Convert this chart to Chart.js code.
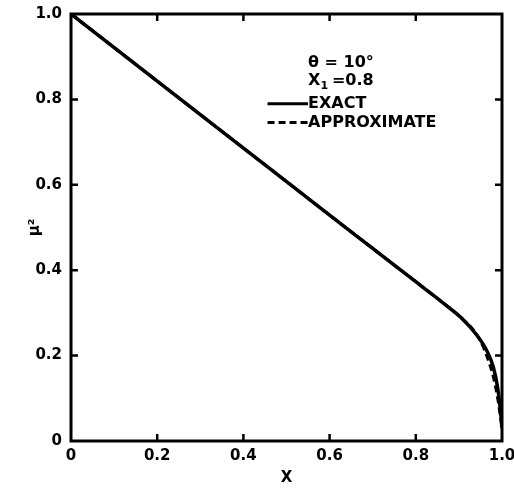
<!DOCTYPE html>
<html>
<head>
<meta charset="utf-8">
<script src="https://cdn.jsdelivr.net/npm/chart.js@4/dist/chart.umd.min.js"></script>
<style>
    html, body { margin: 0; padding: 0; background: #fff; }
    #wrap { width: 514px; height: 491px; position: relative; }
</style>
</head>
<body>
<div id="wrap"><canvas id="chart"></canvas></div>
<script>
// values
const exactX = [0, 0.2, 0.4, 0.6, 0.7, 0.8, 0.85, 0.88, 0.91, 0.94, 0.965, 0.98, 0.99, 0.996, 1.0];
const exactY = [1.0, 0.843, 0.686, 0.529, 0.451, 0.373, 0.334, 0.31, 0.284, 0.25, 0.211, 0.173, 0.124, 0.075, 0.03];
const approxX = [0, 0.2, 0.4, 0.6, 0.7, 0.8, 0.85, 0.88, 0.91, 0.935, 0.955, 0.968, 0.98, 0.99, 0.996, 1.0];
const approxY = [1.0, 0.843, 0.686, 0.529, 0.451, 0.373, 0.334, 0.31, 0.284, 0.258, 0.224, 0.19, 0.15, 0.1, 0.06, 0.03];
const xTicks = [0, 0.2, 0.4, 0.6, 0.8, 1.0];
const yTicks = [0, 0.2, 0.4, 0.6, 0.8, 1.0];
const xTickLabels = ["0", "0.2", "0.4", "0.6", "0.8", "1.0"];
const yTickLabels = ["0", "0.2", "0.4", "0.6", "0.8", "1.0"];

const FONT = "'DejaVu Sans', sans-serif";

const toPoints = (xs, ys) => xs.map((x, i) => ({ x: x, y: ys[i] }));

// frame, inward ticks and the in-plot key
const framePlugin = {
    id: "frame",
    afterDatasetsDraw(chart) {
        const ctx = chart.ctx;
        const a = chart.chartArea;
        const xs = chart.scales.x, ys = chart.scales.y;
        ctx.save();
        ctx.strokeStyle = "#000";
        ctx.lineWidth = 3;
        ctx.strokeRect(a.left, a.top, a.right - a.left, a.bottom - a.top);

        ctx.lineWidth = 2.5;
        const len = 7;
        ctx.beginPath();
        xTicks.slice(1, -1).forEach(v => {
            const px = xs.getPixelForValue(v);
            ctx.moveTo(px, a.bottom); ctx.lineTo(px, a.bottom - len);
            ctx.moveTo(px, a.top); ctx.lineTo(px, a.top + len);
        });
        yTicks.slice(1, -1).forEach(v => {
            const py = ys.getPixelForValue(v);
            ctx.moveTo(a.left, py); ctx.lineTo(a.left + len, py);
            ctx.moveTo(a.right, py); ctx.lineTo(a.right - len, py);
        });
        ctx.stroke();

        // key
        const kx = xs.getPixelForValue(0.55);
        const lx = xs.getPixelForValue(0.456);
        ctx.fillStyle = "#000";
        ctx.textBaseline = "middle";
        ctx.textAlign = "left";
        ctx.font = "bold 16px " + FONT;
        ctx.fillText("\u03B8 = 10\u00B0", kx, ys.getPixelForValue(0.886));
        const y2 = ys.getPixelForValue(0.843);
        ctx.fillText("X", kx, y2);
        const w = ctx.measureText("X").width;
        ctx.font = "bold 11px " + FONT;
        ctx.fillText("1", kx + w, y2 + 5);
        ctx.font = "bold 16px " + FONT;
        ctx.fillText(" =0.8", kx + w + 6, y2);

        const y3 = ys.getPixelForValue(0.79);
        const y4 = ys.getPixelForValue(0.746);
        ctx.lineWidth = 3;
        ctx.beginPath();
        ctx.moveTo(lx, y3); ctx.lineTo(kx, y3);
        ctx.stroke();
        ctx.setLineDash([7, 4]);
        ctx.beginPath();
        ctx.moveTo(lx, y4); ctx.lineTo(kx, y4);
        ctx.stroke();
        ctx.setLineDash([]);
        ctx.fillText("EXACT", kx, y3);
        ctx.fillText("APPROXIMATE", kx, y4);
        ctx.restore();
    }
};

new Chart(document.getElementById("chart").getContext("2d"), {
    type: "scatter",
    data: {
        datasets: [{
            label: "EXACT",
            data: toPoints(exactX, exactY),
            showLine: true,
            borderColor: "#000",
            borderWidth: 3.5,
            pointRadius: 0,
            cubicInterpolationMode: "monotone",
            fill: false
        }, {
            label: "APPROXIMATE",
            data: toPoints(approxX, approxY),
            showLine: true,
            borderColor: "#000",
            borderWidth: 3,
            borderDash: [7, 4],
            pointRadius: 0,
            cubicInterpolationMode: "monotone",
            fill: false
        }]
    },
    options: {
        responsive: true,
        maintainAspectRatio: false,
        animation: false,
        layout: { padding: { top: 14, right: 12, left: 26, bottom: 0 } },
        plugins: {
            legend: { display: false },
            tooltip: { enabled: false }
        },
        scales: {
            x: {
                type: "linear",
                min: 0,
                max: 1,
                afterFit: s => { s.height = 50; s.paddingLeft = 0; s.paddingRight = 0; },
                afterBuildTicks: s => { s.ticks = xTicks.map(v => ({ value: v })); },
                grid: { display: false, drawTicks: false },
                border: { display: false },
                ticks: {
                    color: "#000",
                    padding: 6,
                    maxRotation: 0,
                    autoSkip: false,
                    font: { family: FONT, size: 15, weight: "bold" },
                    callback: (v) => xTickLabels[xTicks.indexOf(v)]
                },
                title: {
                    display: true,
                    text: "X",
                    color: "#000",
                    padding: { top: 4 },
                    font: { family: FONT, size: 15, weight: "bold" }
                }
            },
            y: {
                type: "linear",
                min: 0,
                max: 1,
                afterFit: s => { s.width = 45; s.paddingTop = 0; s.paddingBottom = 0; },
                afterBuildTicks: s => { s.ticks = yTicks.map(v => ({ value: v })); },
                grid: { display: false, drawTicks: false },
                border: { display: false },
                ticks: {
                    color: "#000",
                    padding: 9,
                    autoSkip: false,
                    font: { family: FONT, size: 15, weight: "bold" },
                    callback: (v) => yTickLabels[yTicks.indexOf(v)]
                },
                title: {
                    display: true,
                    text: "\u03BC\u00B2",
                    color: "#000",
                    padding: 0,
                    font: { family: FONT, size: 15, weight: "bold" }
                }
            }
        }
    },
    plugins: [framePlugin]
});
</script>
</body>
</html>
